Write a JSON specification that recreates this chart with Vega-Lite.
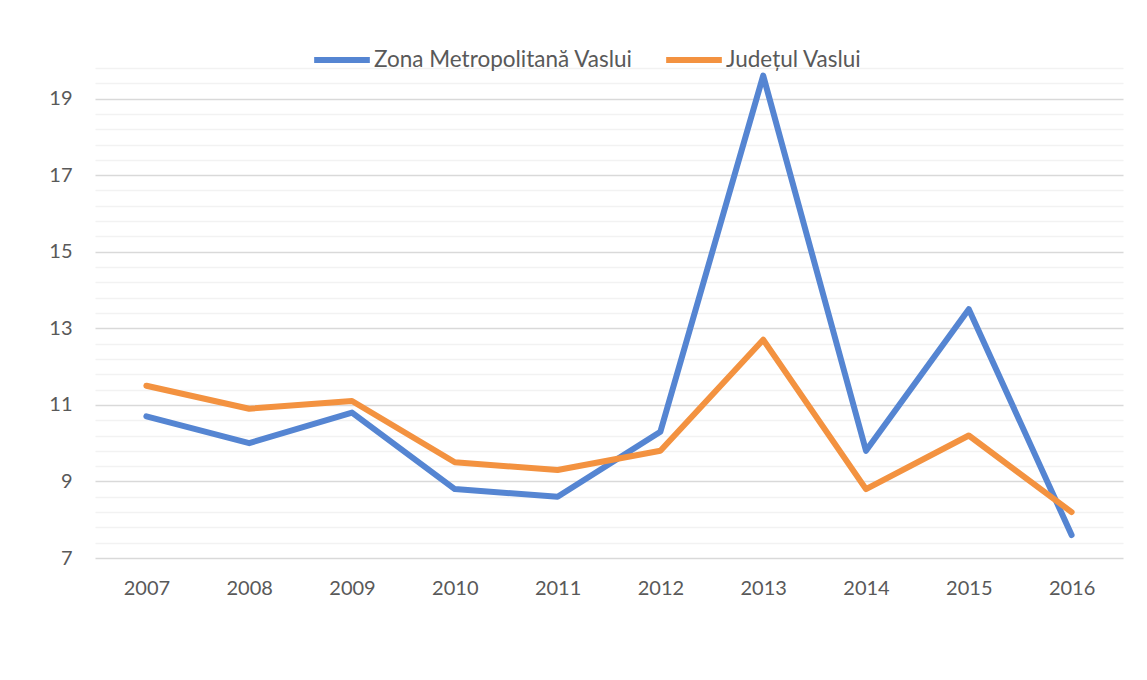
{
  "$schema": "https://vega.github.io/schema/vega-lite/v6.json",
  "autosize": "none",
  "width": 1028,
  "height": 490,
  "padding": {"left": 95, "top": 68, "right": 24, "bottom": 122},
  "background": "white",
  "config": {
    "view": {"stroke": null},
    "font": "Lato",
    "axis": {"labelFont": "Lato", "labelFontSize": 20, "labelColor": "#595959", "domain": false, "ticks": false, "title": null}
  },
  "data": {
    "values": [
      {"year": "2007", "series": "Zona Metropolitană Vaslui", "value": 10.7},
      {"year": "2008", "series": "Zona Metropolitană Vaslui", "value": 10.0},
      {"year": "2009", "series": "Zona Metropolitană Vaslui", "value": 10.8},
      {"year": "2010", "series": "Zona Metropolitană Vaslui", "value": 8.8},
      {"year": "2011", "series": "Zona Metropolitană Vaslui", "value": 8.6},
      {"year": "2012", "series": "Zona Metropolitană Vaslui", "value": 10.3},
      {"year": "2013", "series": "Zona Metropolitană Vaslui", "value": 19.6},
      {"year": "2014", "series": "Zona Metropolitană Vaslui", "value": 9.8},
      {"year": "2015", "series": "Zona Metropolitană Vaslui", "value": 13.5},
      {"year": "2016", "series": "Zona Metropolitană Vaslui", "value": 7.6},
      {"year": "2007", "series": "Județul Vaslui", "value": 11.5},
      {"year": "2008", "series": "Județul Vaslui", "value": 10.9},
      {"year": "2009", "series": "Județul Vaslui", "value": 11.1},
      {"year": "2010", "series": "Județul Vaslui", "value": 9.5},
      {"year": "2011", "series": "Județul Vaslui", "value": 9.3},
      {"year": "2012", "series": "Județul Vaslui", "value": 9.8},
      {"year": "2013", "series": "Județul Vaslui", "value": 12.7},
      {"year": "2014", "series": "Județul Vaslui", "value": 8.8},
      {"year": "2015", "series": "Județul Vaslui", "value": 10.2},
      {"year": "2016", "series": "Județul Vaslui", "value": 8.2}
    ]
  },
  "mark": {"type": "line", "strokeWidth": 6, "strokeCap": "round", "strokeJoin": "round"},
  "encoding": {
    "x": {
      "field": "year",
      "type": "ordinal",
      "scale": {"type": "point", "padding": 0.5},
      "axis": {"labelAngle": 0, "labelPadding": 20, "grid": false}
    },
    "y": {
      "field": "value",
      "type": "quantitative",
      "scale": {"domain": [7, 19.8], "nice": false, "zero": false},
      "axis": {
        "values": [7, 7.4, 7.8, 8.2, 8.6, 9, 9.4, 9.8, 10.2, 10.6, 11, 11.4, 11.8, 12.2, 12.6, 13, 13.4, 13.8, 14.2, 14.6, 15, 15.4, 15.8, 16.2, 16.6, 17, 17.4, 17.8, 18.2, 18.6, 19, 19.4, 19.8],
        "labelExpr": "(abs(datum.value - round(datum.value)) < 0.01 && round(datum.value) % 2 == 1) ? format(datum.value, 'd') : ''",
        "labelPadding": 23,
        "grid": true,
        "gridWidth": 1.5,
        "gridColor": {"condition": {"test": "abs(datum.value - round(datum.value)) < 0.01 && round(datum.value) % 2 == 1", "value": "#d9d9d9"}, "value": "#f2f2f2"}
      }
    },
    "color": {
      "field": "series",
      "type": "nominal",
      "scale": {"domain": ["Zona Metropolitană Vaslui", "Județul Vaslui"], "range": ["#5585d2", "#f39240"]},
      "legend": {
        "title": null,
        "orient": "none",
        "direction": "horizontal",
        "legendX": 216,
        "legendY": -39,
        "symbolType": "stroke",
        "symbolSize": 3100,
        "symbolStrokeWidth": 6,
        "labelFont": "Lato",
        "labelFontSize": 22.5,
        "labelColor": "#595959",
        "labelOffset": 1,
        "columnPadding": 21,
        "labelLimit": 400
      }
    }
  }
}
